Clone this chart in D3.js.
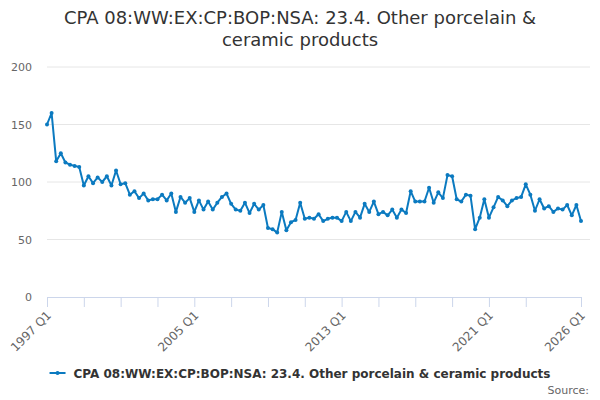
<!DOCTYPE html>
<html>
<head>
<meta charset="utf-8">
<script src="https://cdn.jsdelivr.net/npm/d3@7"></script>
<style>
    body { margin: 0; background: #fff; }
    #chart { width: 600px; height: 400px; }
    text { font-family: "DejaVu Sans", sans-serif; }
</style>
</head>
<body>
<div id="chart"></div>
<script>
const TITLE_LINES = ["CPA 08:WW:EX:CP:BOP:NSA: 23.4. Other porcelain &", "ceramic products"];
const SERIES_NAME = "CPA 08:WW:EX:CP:BOP:NSA: 23.4. Other porcelain & ceramic products";

// quarters 1997 Q1 .. 2026 Q1
const quarters = [];
for (let yr = 1997; yr <= 2026; yr++) {
    for (let q = 1; q <= 4; q++) {
        if (yr === 2026 && q > 1) break;
        quarters.push(yr + " Q" + q);
    }
}

const values = [
    150, 160, 118, 125, 117, 115, 114, 113, 97, 105, 99, 104, 100, 105, 97, 110,
    98, 99, 89, 92, 86, 90, 84, 85, 85, 89, 84, 90, 74, 87, 82, 86,
    74, 84, 76, 83, 76, 82, 87, 90, 81, 76, 75, 82, 73, 81, 76, 80,
    60, 59, 56, 74, 58, 65, 67, 82, 68, 69, 68, 72, 66, 68, 69, 69,
    66, 74, 66, 74, 69, 81, 74, 83, 72, 74, 71, 76, 69, 76, 73, 92,
    83, 83, 83, 95, 82, 91, 86, 106, 105, 85, 83, 89, 88, 59, 69, 85,
    69, 78, 87, 84, 79, 84, 86, 87, 98, 89, 75, 85, 77, 79, 74, 77,
    76, 80, 71, 80, 66
];

const yTicks = [0, 50, 100, 150, 200];
const xTickIdx = [0, 8, 16, 24, 32, 40, 48, 56, 64, 72, 80, 88, 96, 104, 116];
const xLabelIdx = [0, 32, 64, 96, 116];

var svg, x, y;
var margin = { top: 67, right: 19, bottom: 103, left: 47 };
const W = 600, H = 400;
const LINE_COLOR = "#0b7ac0";

function drawChart() {
    svg = d3.select("#chart").append("svg")
        .attr("width", W)
        .attr("height", H);

    x = d3.scaleLinear().domain([0, quarters.length - 1]).range([margin.left, W - margin.right]);
    y = d3.scaleLinear().domain([0, 200]).range([H - margin.bottom, margin.top]);

    // title
    svg.append("g").selectAll("text")
        .data(TITLE_LINES)
        .enter().append("text")
        .attr("x", W / 2)
        .attr("y", (d, i) => 24 + i * 22)
        .attr("text-anchor", "middle")
        .attr("fill", "#333")
        .style("font-size", "18px")
        .text(d => d);

    // grid + y labels
    const yAxis = svg.append("g").attr("class", "y-axis");
    yAxis.selectAll("line")
        .data(yTicks.filter(d => d > 0))
        .enter().append("line")
        .attr("x1", margin.left)
        .attr("x2", W - 10)
        .attr("y1", d => y(d))
        .attr("y2", d => y(d))
        .attr("stroke", "#e6e6e6");
    yAxis.selectAll("text")
        .data(yTicks)
        .enter().append("text")
        .attr("x", 32)
        .attr("y", d => y(d) + 4)
        .attr("text-anchor", "end")
        .attr("fill", "#666")
        .style("font-size", "11px")
        .text(d => d);

    // x axis
    const xAxis = svg.append("g").attr("class", "x-axis");
    xAxis.append("line")
        .attr("x1", margin.left)
        .attr("x2", x(quarters.length - 1) + 1)
        .attr("y1", y(0) + 0.5)
        .attr("y2", y(0) + 0.5)
        .attr("stroke", "#ccd6eb");
    xAxis.selectAll(".tick")
        .data(xTickIdx)
        .enter().append("line")
        .attr("class", "tick")
        .attr("x1", d => x(d) + 0.5)
        .attr("x2", d => x(d) + 0.5)
        .attr("y1", y(0))
        .attr("y2", y(0) + 10)
        .attr("stroke", "#ccd6eb");
    xAxis.selectAll("text")
        .data(xLabelIdx)
        .enter().append("text")
        .attr("transform", d => `translate(${x(d) + 5},${y(0) + 19}) rotate(-45)`)
        .attr("text-anchor", "end")
        .attr("fill", "#666")
        .style("font-size", "12px")
        .text(d => quarters[d]);

    // series
    const line = d3.line()
        .x((d, i) => x(i))
        .y(d => y(d));
    svg.append("path")
        .datum(values)
        .attr("fill", "none")
        .attr("stroke", LINE_COLOR)
        .attr("stroke-width", 2)
        .attr("stroke-linejoin", "round")
        .attr("d", line);
    svg.append("g").selectAll("circle")
        .data(values)
        .enter().append("circle")
        .attr("cx", (d, i) => x(i))
        .attr("cy", d => y(d))
        .attr("r", 2)
        .attr("fill", LINE_COLOR);

    // legend
    const legend = svg.append("g");
    const legText = legend.append("text")
        .attr("x", 24)
        .attr("y", 5)
        .attr("fill", "#333")
        .style("font-size", "12px")
        .style("font-weight", "bold")
        .text(SERIES_NAME);
    const tw = legText.node().getComputedTextLength();
    legend.attr("transform", `translate(${300 - (tw + 24) / 2},373)`);
    legend.append("line")
        .attr("x1", 0).attr("x2", 16)
        .attr("y1", 0).attr("y2", 0)
        .attr("stroke", LINE_COLOR)
        .attr("stroke-width", 2);
    legend.append("circle")
        .attr("cx", 8).attr("cy", 0).attr("r", 2)
        .attr("fill", LINE_COLOR);

    svg.append("text")
        .attr("x", 589)
        .attr("y", 394)
        .attr("text-anchor", "end")
        .attr("fill", "#666")
        .style("font-size", "11px")
        .text("Source:");
}

document.addEventListener("DOMContentLoaded", () => {
    drawChart();
});
</script>
</body>
</html>
